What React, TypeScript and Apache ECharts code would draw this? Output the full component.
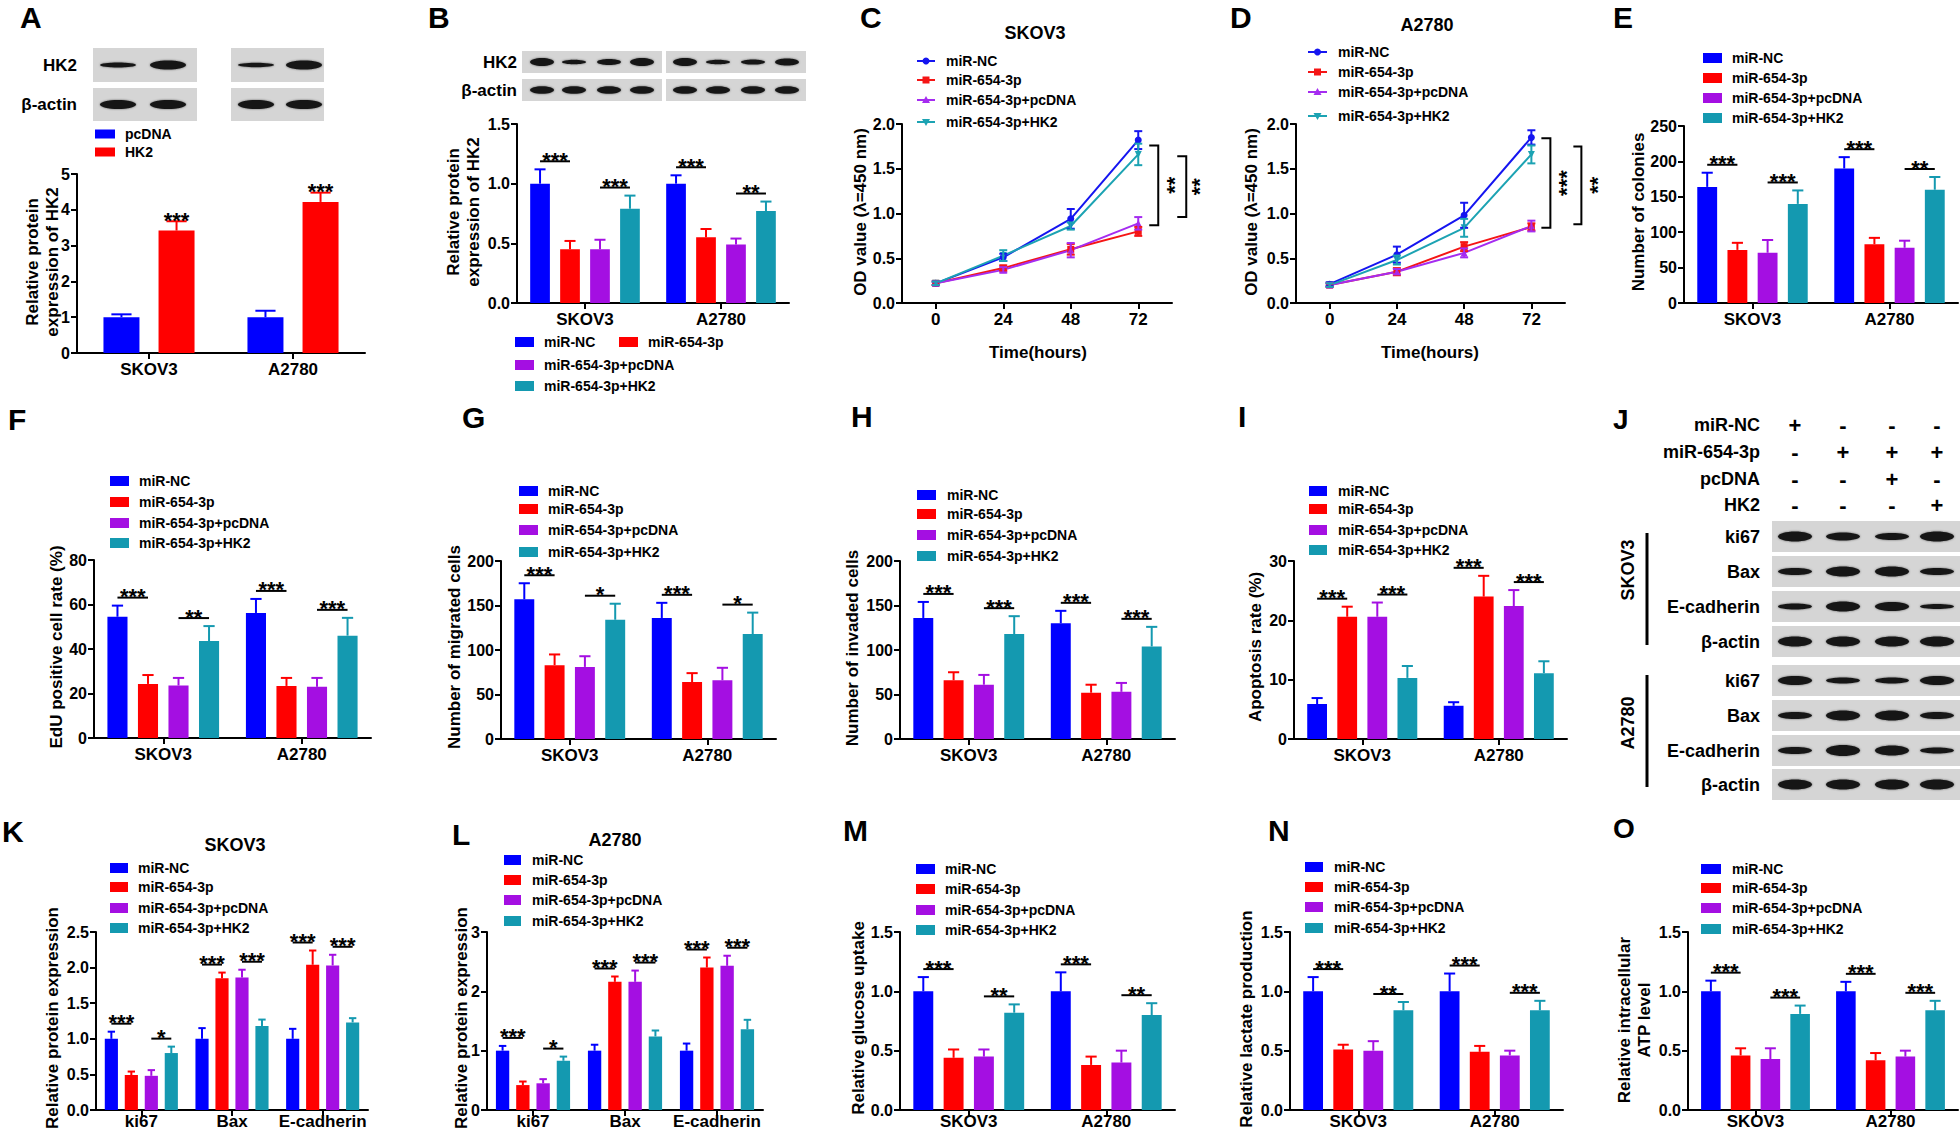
import React, { useEffect, useRef } from 'react';
import * as echarts from 'echarts';

const NORM = "'Liberation Sans', Arial, Helvetica, sans-serif";

const BLUE = '#0000ff';
const RED = '#ff0000';
const PURPLE = '#a40fe2';
const TEAL = '#1499b0';
const C4 = [BLUE, RED, PURPLE, TEAL];
const LC4 = ['#1515f0', '#f51515', '#a52cf0', '#1ca3b3'];
const SYMS = ['circle', 'rect', 'triangle', 'path://M0,0L10,0L5,9Z'];

// ---------------- categories / names ----------------
const CELLS = ['SKOV3', 'A2780'];
const PROTEINS = ['ki67', 'Bax', 'E-cadherin'];
const HOURS = ['0', '24', '48', '72'];
const GROUPS = ['miR-NC', 'miR-654-3p', 'miR-654-3p+pcDNA', 'miR-654-3p+HK2'];
const A_GROUPS = ['pcDNA', 'HK2'];

// ---------------- A ----------------
const aMean = [[1.0, 1.0], [3.42, 4.22]];
const aErr = [[0.08, 0.18], [0.26, 0.26]];
const aSig = ['***', '***'];
// ---------------- B ----------------
const bMean = [[1.0, 1.0], [0.45, 0.55], [0.45, 0.49], [0.79, 0.77]];
const bErr = [[0.12, 0.07], [0.07, 0.07], [0.08, 0.05], [0.11, 0.08]];
const bSig = [['***', '***'], ['***', '**']];
// ---------------- C ----------------
const cMean = [[0.22, 0.51, 0.94, 1.82], [0.22, 0.39, 0.6, 0.8], [0.22, 0.37, 0.59, 0.89], [0.22, 0.53, 0.86, 1.66]];
const cErr = [[0.02, 0.04, 0.11, 0.1], [0.02, 0.03, 0.06, 0.05], [0.02, 0.03, 0.08, 0.07], [0.02, 0.06, 0.04, 0.12]];
const cBrackets = [[1.76, 0.87], [1.64, 0.96]];
const cBracketSig = ['**', '**'];
// ---------------- D ----------------
const dMean = [[0.21, 0.54, 0.98, 1.85], [0.2, 0.35, 0.63, 0.85], [0.2, 0.35, 0.56, 0.86], [0.2, 0.48, 0.84, 1.66]];
const dErr = [[0.02, 0.09, 0.14, 0.08], [0.02, 0.04, 0.05, 0.04], [0.02, 0.03, 0.05, 0.06], [0.02, 0.05, 0.1, 0.1]];
const dBrackets = [[1.84, 0.84], [1.75, 0.88]];
const dBracketSig = ['***', '**'];
// ---------------- E ----------------
const eMean = [[164, 190], [75, 83], [71, 78], [140, 160]];
const eErr = [[20, 16], [10, 9], [18, 10], [19, 18]];
const eSig = [['***', '***'], ['***', '**']];
// ---------------- F ----------------
const fMean = [[54.5, 56.2], [24.3, 23.4], [23.6, 23.0], [43.6, 46.0]];
const fErr = [[5, 6.3], [4, 3.6], [3.4, 4], [6.7, 8]];
const fSig = [['***', '**'], ['***', '***']];
// ---------------- G ----------------
const gMean = [[157, 136], [83, 64], [81, 66], [134, 118]];
const gErr = [[18, 17], [12, 10], [12, 14], [18, 24]];
const gSig = [['***', '*'], ['***', '*']];
// ---------------- H ----------------
const hMean = [[136, 130], [66, 52], [61, 53], [118, 104]];
const hErr = [[18, 14], [9, 9], [11, 10], [20, 22]];
const hSig = [['***', '***'], ['***', '***']];
// ---------------- I ----------------
const iMean = [[5.9, 5.6], [20.6, 24.0], [20.6, 22.4], [10.3, 11.1]];
const iErr = [[1.0, 0.6], [1.7, 3.5], [2.4, 2.7], [2.0, 2.0]];
const iSig = [['***', '***'], ['***', '***']];
// ---------------- J (western blot) ----------------
const jHeader = ['miR-NC', 'miR-654-3p', 'pcDNA', 'HK2'];
const jSigns = [['+', '-', '-', '-'], ['-', '+', '+', '+'], ['-', '-', '+', '-'], ['-', '-', '-', '+']];
const jRows = ['ki67', 'Bax', 'E-cadherin', 'β-actin'];
const jBandSKOV3 = [[5, 4, 3.5, 5], [3.5, 5, 5, 3.5], [3, 5, 4.5, 2.5], [5, 5, 5, 5]];
const jBandA2780 = [[4.5, 3, 3, 4.5], [3.5, 5, 5, 3.5], [3.5, 5.5, 5, 3], [5, 5, 5, 5]];
const aBandHK2 = [[2.5, 4.5], [2.2, 4.5]];
const aBandActin = [[4.5, 4.5], [4.5, 4.5]];
const bBandHK2 = [[4, 2.3, 3, 4], [4, 2.3, 2.6, 3.6]];
const bBandActin = [[3.8, 3.8, 3.8, 3.8], [3.8, 3.8, 3.8, 3.8]];
// ---------------- K ----------------
const kMean = [[1.0, 1.0, 1.0], [0.49, 1.85, 2.04], [0.48, 1.86, 2.03], [0.8, 1.18, 1.23]];
const kErr = [[0.1, 0.15, 0.14], [0.05, 0.08, 0.2], [0.08, 0.11, 0.15], [0.09, 0.09, 0.06]];
const kSig = [['***', '*'], ['***', '***'], ['***', '***']];
// ---------------- L ----------------
const lMean = [[1.0, 1.0, 1.0], [0.42, 2.16, 2.4], [0.45, 2.16, 2.43], [0.83, 1.24, 1.36]];
const lErr = [[0.08, 0.1, 0.12], [0.06, 0.09, 0.17], [0.07, 0.19, 0.17], [0.07, 0.1, 0.16]];
const lSig = [['***', '*'], ['***', '***'], ['***', '***']];
// ---------------- M ----------------
const mMean = [[1.0, 1.0], [0.44, 0.38], [0.45, 0.4], [0.82, 0.8]];
const mErr = [[0.12, 0.16], [0.07, 0.07], [0.06, 0.1], [0.07, 0.1]];
const mSig = [['***', '**'], ['***', '**']];
// ---------------- N ----------------
const nMean = [[1.0, 1.0], [0.51, 0.49], [0.5, 0.46], [0.84, 0.84]];
const nErr = [[0.12, 0.15], [0.04, 0.05], [0.08, 0.04], [0.07, 0.08]];
const nSig = [['***', '**'], ['***', '***']];
// ---------------- O ----------------
const oMean = [[1.0, 1.0], [0.46, 0.42], [0.43, 0.45], [0.81, 0.84]];
const oErr = [[0.09, 0.08], [0.06, 0.06], [0.09, 0.05], [0.07, 0.08]];
const oSig = [['***', '***'], ['***', '***']];

function buildOption(): any {
  const G: any[] = [];
  const grids: any[] = [];
  const xAxes: any[] = [];
  const yAxes: any[] = [];
  const series: any[] = [];

  const font = (fs: number) => `bold ${fs}px ${NORM}`;
  const txtStyle = (text: string, fs: number, al: string) => ({
    text, fill: '#000', font: font(fs), align: al, textAlign: al, verticalAlign: 'middle', textVerticalAlign: 'middle',
  });
  const T = (x: number, y: number, text: string, o: any = {}) => {
    const al = o.al || 'left';
    const fs = o.fs || 17;
    G.push({
      type: 'text', x, y, rotation: o.rot || 0, silent: true, z: 20,
      style: { ...txtStyle(text, fs, al), lineHeight: o.lh || Math.round(fs * 1.2) },
    });
  };

  const axisLine = { show: true, onZero: false, lineStyle: { color: '#000', width: 2 } };
  const axisTick = (align: boolean) => ({ show: true, length: 6, alignWithLabel: align, lineStyle: { color: '#000', width: 2 } });
  const xCat = (i: number, data: string[], margin: number) => ({
    type: 'category', gridIndex: i, data, axisLine, axisTick: axisTick(true),
    axisLabel: { interval: 0, color: '#000', fontSize: 17, fontWeight: 'bold', fontFamily: NORM, margin },
    splitLine: { show: false },
  });
  const yVal = (i: number, max: number, step: number, dec: number) => ({
    type: 'value', gridIndex: i, min: 0, max, interval: step, axisLine, axisTick: axisTick(false),
    axisLabel: { color: '#000', fontSize: 16, fontWeight: 'bold', fontFamily: NORM, margin: 7, formatter: (v: number) => v.toFixed(dec) },
    splitLine: { show: false },
  });

  const addBarPanel = (c: any) => {
    const i = grids.length;
    const [l, t, w, h] = c.rect;
    grids.push({ left: l, top: t, width: w, height: h });
    xAxes.push(xCat(i, c.cats, c.lm ?? 8));
    yAxes.push(yVal(i, c.max, c.step, c.dec));
    const n = c.groups.length;
    const bw = c.bw ?? 14.5;
    const gap = c.gap ?? 52;
    const geo = (api: any, k: number, g: number) => {
      const band = api.size([1, 0])[0];
      const wpx = (band * bw) / 100;
      return { x: api.coord([k, 0])[0] + (g - (n - 1) / 2) * wpx * (1 + gap / 100), w: wpx };
    };
    c.groups.forEach((name: string, g: number) => {
      series.push({
        type: 'bar', name, xAxisIndex: i, yAxisIndex: i, data: c.mean[g], barWidth: bw + '%', barGap: gap + '%',
        itemStyle: { color: c.colors[g] }, silent: true, z: 2,
      });
      series.push({
        type: 'custom', xAxisIndex: i, yAxisIndex: i, silent: true, z: 3,
        data: c.mean[g].map((m: number, k: number) => [k, m, c.err[g][k]]),
        renderItem: (_p: any, api: any) => {
          const k = api.value(0), m = api.value(1), e = api.value(2);
          const gg = geo(api, k, g);
          const y0 = api.coord([k, m])[1];
          const y1 = api.coord([k, m + e])[1];
          const cw = gg.w * 0.28;
          const st = { stroke: c.colors[g], lineWidth: 2 };
          return {
            type: 'group', children: [
              { type: 'line', shape: { x1: gg.x, y1: y0, x2: gg.x, y2: y1 }, style: st },
              { type: 'line', shape: { x1: gg.x - cw, y1: y1, x2: gg.x + cw, y2: y1 }, style: st },
            ],
          };
        },
      });
    });
    if (c.sig) {
      const data: any[] = [];
      const labels: string[] = [];
      c.cats.forEach((_: any, k: number) => {
        [0, 1].forEach((p) => {
          const a = 2 * p, b = 2 * p + 1;
          const top = Math.max(c.mean[a][k] + c.err[a][k], c.mean[b][k] + c.err[b][k]) + c.max * 0.045;
          data.push([k, top, p]);
          labels.push(c.sig[k][p]);
        });
      });
      series.push({
        type: 'custom', xAxisIndex: i, yAxisIndex: i, silent: true, z: 4, data,
        renderItem: (params: any, api: any) => {
          const k = api.value(0), p = api.value(2);
          const y = api.coord([k, api.value(1)])[1];
          const A = geo(api, k, 2 * p), B = geo(api, k, 2 * p + 1);
          return {
            type: 'group', children: [
              { type: 'line', shape: { x1: A.x, y1: y, x2: B.x, y2: y }, style: { stroke: '#000', lineWidth: 2 } },
              { type: 'text', x: (A.x + B.x) / 2, y: y - 1, style: txtStyle(labels[params.dataIndex], 22, 'center') },
            ],
          };
        },
      });
    }
    if (c.topSig) {
      series.push({
        type: 'custom', xAxisIndex: i, yAxisIndex: i, silent: true, z: 4,
        data: c.cats.map((_: any, k: number) => [k, c.mean[1][k] + c.err[1][k]]),
        renderItem: (params: any, api: any) => {
          const k = api.value(0);
          const B = geo(api, k, 1);
          const y = api.coord([k, api.value(1)])[1];
          return { type: 'text', x: B.x, y: y - 1, style: txtStyle(c.topSig[params.dataIndex], 22, 'center') };
        },
      });
    }
  };

  const addLinePanel = (c: any) => {
    const i = grids.length;
    const [l, t, w, h] = c.rect;
    grids.push({ left: l, top: t, width: w, height: h });
    xAxes.push(xCat(i, HOURS, 8));
    yAxes.push(yVal(i, 2, 0.5, 1));
    GROUPS.forEach((name, g) => {
      series.push({
        type: 'line', name, xAxisIndex: i, yAxisIndex: i, data: c.mean[g], symbol: SYMS[g], symbolSize: 7,
        lineStyle: { color: LC4[g], width: 2 }, itemStyle: { color: LC4[g] }, silent: true, z: 2,
      });
      series.push({
        type: 'custom', xAxisIndex: i, yAxisIndex: i, silent: true, z: 3,
        data: c.mean[g].map((m: number, k: number) => [k, m, c.err[g][k]]),
        renderItem: (_p: any, api: any) => {
          const k = api.value(0), m = api.value(1), e = api.value(2);
          const x = api.coord([k, m])[0];
          const yu = api.coord([k, m + e])[1], yl = api.coord([k, m - e])[1];
          const st = { stroke: LC4[g], lineWidth: 2 };
          return {
            type: 'group', children: [
              { type: 'line', shape: { x1: x, y1: yl, x2: x, y2: yu }, style: st },
              { type: 'line', shape: { x1: x - 4, y1: yu, x2: x + 4, y2: yu }, style: st },
              { type: 'line', shape: { x1: x - 4, y1: yl, x2: x + 4, y2: yl }, style: st },
            ],
          };
        },
      });
    });
    series.push({
      type: 'custom', xAxisIndex: i, yAxisIndex: i, silent: true, z: 5,
      data: c.brackets.map((b: number[], j: number) => [3, b[0], b[1], j]),
      renderItem: (_p: any, api: any) => {
        const j = api.value(3);
        const base = api.coord([3, 0])[0];
        const off = c.offs[j];
        const yT = api.coord([3, api.value(1)])[1];
        const yB = api.coord([3, api.value(2)])[1];
        return {
          type: 'group', children: [
            {
              type: 'polyline',
              shape: { points: [[base + off[0], yT], [base + off[1], yT], [base + off[1], yB], [base + off[0], yB]] },
              style: { stroke: '#000', lineWidth: 2, fill: 'none' },
            },
            { type: 'text', x: base + off[2], y: (yT + yB) / 2, rotation: Math.PI / 2, style: txtStyle(c.sig[j], 22, 'center') },
          ],
        };
      },
    });
  };

  const rectLegend = (x: number, w: number, h: number, ys: number[], tx: number, names: string[], colors: string[]) => {
    names.forEach((nm, k) => {
      G.push({ type: 'rect', shape: { x, y: ys[k] - h / 2, width: w, height: h }, style: { fill: colors[k] }, silent: true, z: 20 });
      T(tx, ys[k], nm, { fs: 14 });
    });
  };
  const marker = (g: number, cx: number, cy: number, col: string) => {
    if (g === 0) G.push({ type: 'circle', shape: { cx, cy, r: 3.5 }, style: { fill: col }, z: 21 });
    else if (g === 1) G.push({ type: 'rect', shape: { x: cx - 3.5, y: cy - 3.5, width: 7, height: 7 }, style: { fill: col }, z: 21 });
    else if (g === 2) G.push({ type: 'polygon', shape: { points: [[cx, cy - 4], [cx + 4, cy + 3], [cx - 4, cy + 3]] }, style: { fill: col }, z: 21 });
    else G.push({ type: 'polygon', shape: { points: [[cx - 4, cy - 3], [cx + 4, cy - 3], [cx, cy + 4]] }, style: { fill: col }, z: 21 });
  };
  const lineLegend = (x0: number, x1: number, ys: number[], tx: number) => {
    GROUPS.forEach((nm, g) => {
      G.push({ type: 'line', shape: { x1: x0, y1: ys[g], x2: x1, y2: ys[g] }, style: { stroke: LC4[g], lineWidth: 2 }, z: 20 });
      marker(g, (x0 + x1) / 2, ys[g], LC4[g]);
      T(tx, ys[g], nm, { fs: 14 });
    });
  };
  const blot = (x: number, y: number, w: number, h: number, lanes: number[], thick: number[], hw: number) => {
    G.push({ type: 'rect', shape: { x, y, width: w, height: h }, style: { fill: '#d5d5d5' }, silent: true, z: 10 });
    lanes.forEach((cx, k) => {
      G.push({
        type: 'ellipse', shape: { cx, cy: y + h / 2, rx: hw, ry: thick[k] }, silent: true, z: 11,
        style: { fill: '#181818', shadowBlur: 2, shadowColor: 'rgba(0,0,0,0.5)' },
      });
    });
  };

  const ROT = Math.PI / 2;

  // ---------- A ----------
  T(20, 17, 'A', { fs: 30 });
  T(77, 65, 'HK2', { al: 'right' });
  T(77, 104, 'β-actin', { al: 'right' });
  blot(93, 48, 104, 34, [118, 168], aBandHK2[0], 18);
  blot(231, 48, 93, 34, [256, 304], aBandHK2[1], 18);
  blot(93, 88, 104, 33, [118, 168], aBandActin[0], 18);
  blot(231, 88, 93, 33, [256, 304], aBandActin[1], 18);
  rectLegend(95, 20, 9, [134, 152], 125, A_GROUPS, [BLUE, RED]);
  T(42, 262, 'Relative protein\nexpression of HK2', { rot: ROT, al: 'center', lh: 20 });
  addBarPanel({ rect: [77, 174, 288, 179], cats: CELLS, groups: A_GROUPS, colors: [BLUE, RED], mean: aMean, err: aErr, max: 5, step: 1, dec: 0, topSig: aSig, bw: 25, gap: 53 });

  // ---------- B ----------
  T(428, 17, 'B', { fs: 30 });
  T(517, 62, 'HK2', { al: 'right' });
  T(517, 90, 'β-actin', { al: 'right' });
  blot(522, 51, 140, 22, [542, 574, 609, 642], bBandHK2[0], 12);
  blot(666, 51, 140, 22, [685, 718, 753, 787], bBandHK2[1], 12);
  blot(522, 79, 140, 22, [542, 574, 609, 642], bBandActin[0], 12);
  blot(666, 79, 140, 22, [685, 718, 753, 787], bBandActin[1], 12);
  T(463, 212, 'Relative protein\nexpression of HK2', { rot: ROT, al: 'center', lh: 20 });
  addBarPanel({ rect: [517, 124, 272, 179], cats: CELLS, groups: GROUPS, colors: C4, mean: bMean, err: bErr, max: 1.5, step: 0.5, dec: 1, sig: bSig });
  const bLeg = [[515, 342], [619, 342], [515, 365], [515, 386]];
  GROUPS.forEach((nm, g) => {
    G.push({ type: 'rect', shape: { x: bLeg[g][0], y: bLeg[g][1] - 5, width: 19, height: 10 }, style: { fill: C4[g] }, z: 20 });
    T(bLeg[g][0] + 29, bLeg[g][1], nm, { fs: 14 });
  });

  // ---------- C ----------
  T(860, 17, 'C', { fs: 30 });
  T(1035, 33, 'SKOV3', { al: 'center', fs: 18 });
  lineLegend(917, 935, [61, 80, 100, 122], 946);
  T(860, 212, 'OD value (λ=450 nm)', { rot: ROT, al: 'center' });
  T(1038, 352, 'Time(hours)', { al: 'center' });
  addLinePanel({ rect: [902, 124, 270, 179], mean: cMean, err: cErr, brackets: cBrackets, sig: cBracketSig, offs: [[11, 20, 36], [39, 48, 61]] });

  // ---------- D ----------
  T(1230, 17, 'D', { fs: 30 });
  T(1427, 25, 'A2780', { al: 'center', fs: 18 });
  lineLegend(1308, 1327, [52, 72, 92, 116], 1338);
  T(1251, 212, 'OD value (λ=450 nm)', { rot: ROT, al: 'center' });
  T(1430, 352, 'Time(hours)', { al: 'center' });
  addLinePanel({ rect: [1296, 124, 269, 179], mean: dMean, err: dErr, brackets: dBrackets, sig: dBracketSig, offs: [[10, 19, 35], [42, 50, 66]] });

  // ---------- E ----------
  T(1613, 17, 'E', { fs: 30 });
  rectLegend(1703, 19, 10, [58, 78, 98, 118], 1732, GROUPS, C4);
  T(1638, 212, 'Number of colonies', { rot: ROT, al: 'center' });
  addBarPanel({ rect: [1684, 126, 274, 177], cats: CELLS, groups: GROUPS, colors: C4, mean: eMean, err: eErr, max: 250, step: 50, dec: 0, sig: eSig });

  // ---------- F ----------
  T(8, 419, 'F', { fs: 30 });
  rectLegend(110, 19, 10, [481, 502, 523, 543], 139, GROUPS, C4);
  T(56, 647, 'EdU positive cell rate (%)', { rot: ROT, al: 'center' });
  addBarPanel({ rect: [94, 560, 277, 178], cats: CELLS, groups: GROUPS, colors: C4, mean: fMean, err: fErr, max: 80, step: 20, dec: 0, sig: fSig });

  // ---------- G ----------
  T(462, 417, 'G', { fs: 30 });
  rectLegend(519, 19, 10, [491, 509, 530, 552], 548, GROUPS, C4);
  T(454, 647, 'Number of migrated cells', { rot: ROT, al: 'center' });
  addBarPanel({ rect: [501, 561, 275, 178], cats: CELLS, groups: GROUPS, colors: C4, mean: gMean, err: gErr, max: 200, step: 50, dec: 0, sig: gSig });

  // ---------- H ----------
  T(851, 416, 'H', { fs: 30 });
  rectLegend(917, 19, 10, [495, 514, 535, 556], 947, GROUPS, C4);
  T(852, 648, 'Number of invaded cells', { rot: ROT, al: 'center' });
  addBarPanel({ rect: [900, 561, 275, 178], cats: CELLS, groups: GROUPS, colors: C4, mean: hMean, err: hErr, max: 200, step: 50, dec: 0, sig: hSig });

  // ---------- I ----------
  T(1238, 416, 'I', { fs: 30 });
  rectLegend(1309, 18, 10, [491, 509, 530, 550], 1338, GROUPS, C4);
  T(1255, 647, 'Apoptosis rate (%)', { rot: ROT, al: 'center' });
  addBarPanel({ rect: [1294, 561, 273, 178], cats: CELLS, groups: GROUPS, colors: C4, mean: iMean, err: iErr, max: 30, step: 10, dec: 0, sig: iSig });

  // ---------- J ----------
  T(1613, 419, 'J', { fs: 28 });
  const laneX = [1795, 1843, 1892, 1937];
  const headY = [425, 452, 479, 505];
  jHeader.forEach((hd, r) => {
    T(1760, headY[r], hd, { al: 'right', fs: 18 });
    jSigns[r].forEach((s, k) => T(laneX[k], headY[r], s, { al: 'center', fs: 22 }));
  });
  const skTops = [521, 556, 591, 626];
  const a2Tops = [665, 700, 735, 769];
  jRows.forEach((rn, r) => {
    blot(1772, skTops[r], 188, 31, laneX, jBandSKOV3[r], 17);
    T(1760, skTops[r] + 15.5, rn, { al: 'right', fs: 18 });
    blot(1772, a2Tops[r], 188, 31, laneX, jBandA2780[r], 17);
    T(1760, a2Tops[r] + 15.5, rn, { al: 'right', fs: 18 });
  });
  G.push({ type: 'line', shape: { x1: 1647, y1: 533, x2: 1647, y2: 645 }, style: { stroke: '#000', lineWidth: 3 }, z: 20 });
  G.push({ type: 'line', shape: { x1: 1647, y1: 675, x2: 1647, y2: 787 }, style: { stroke: '#000', lineWidth: 3 }, z: 20 });
  T(1628, 570, 'SKOV3', { rot: ROT, al: 'center', fs: 18 });
  T(1628, 723, 'A2780', { rot: ROT, al: 'center', fs: 18 });

  // ---------- K ----------
  T(2, 831, 'K', { fs: 30 });
  T(235, 845, 'SKOV3', { al: 'center', fs: 18 });
  rectLegend(110, 18, 10, [868, 887, 908, 928], 138, GROUPS, C4);
  T(52, 1018, 'Relative protein expression', { rot: ROT, al: 'center' });
  addBarPanel({ rect: [96, 932, 272, 178], cats: PROTEINS, groups: GROUPS, colors: C4, mean: kMean, err: kErr, max: 2.5, step: 0.5, dec: 1, sig: kSig, lm: 3 });

  // ---------- L ----------
  T(452, 834, 'L', { fs: 30 });
  T(615, 840, 'A2780', { al: 'center', fs: 18 });
  rectLegend(504, 17, 10, [860, 880, 900, 921], 532, GROUPS, C4);
  T(461, 1018, 'Relative protein expression', { rot: ROT, al: 'center' });
  addBarPanel({ rect: [487, 932, 276, 178], cats: PROTEINS, groups: GROUPS, colors: C4, mean: lMean, err: lErr, max: 3, step: 1, dec: 0, sig: lSig, lm: 3 });

  // ---------- M ----------
  T(843, 830, 'M', { fs: 30 });
  rectLegend(916, 19, 10, [869, 889, 910, 930], 945, GROUPS, C4);
  T(858, 1018, 'Relative glucose uptake', { rot: ROT, al: 'center' });
  addBarPanel({ rect: [900, 932, 275, 178], cats: CELLS, groups: GROUPS, colors: C4, mean: mMean, err: mErr, max: 1.5, step: 0.5, dec: 1, sig: mSig, lm: 3 });

  // ---------- N ----------
  T(1268, 830, 'N', { fs: 30 });
  rectLegend(1305, 18, 10, [867, 887, 907, 928], 1334, GROUPS, C4);
  T(1246, 1019, 'Relative lactate production', { rot: ROT, al: 'center' });
  addBarPanel({ rect: [1290, 932, 273, 178], cats: CELLS, groups: GROUPS, colors: C4, mean: nMean, err: nErr, max: 1.5, step: 0.5, dec: 1, sig: nSig, lm: 3 });

  // ---------- O ----------
  T(1613, 828, 'O', { fs: 28 });
  rectLegend(1701, 20, 10, [869, 888, 908, 929], 1732, GROUPS, C4);
  T(1634, 1020, 'Relative intracellular\nATP level', { rot: ROT, al: 'center', lh: 20 });
  addBarPanel({ rect: [1688, 932, 270, 178], cats: CELLS, groups: GROUPS, colors: C4, mean: oMean, err: oErr, max: 1.5, step: 0.5, dec: 1, sig: oSig, lm: 3 });

  return {
    animation: false,
    backgroundColor: '#ffffff',
    textStyle: { fontFamily: NORM },
    grid: grids,
    xAxis: xAxes,
    yAxis: yAxes,
    series,
    graphic: { elements: G },
  };
}

export default function App() {
  const ref = useRef<HTMLDivElement>(null);
  useEffect(() => {
    const chart = echarts.init(ref.current as HTMLDivElement, null, { renderer: 'svg', width: 1960, height: 1134 });
    chart.setOption(buildOption());
    return () => chart.dispose();
  }, []);
  return (
    <div
      ref={ref}
      style={{ position: 'absolute', left: 0, top: 0, width: 1960, height: 1134, background: '#ffffff' }}
    />
  );
}
